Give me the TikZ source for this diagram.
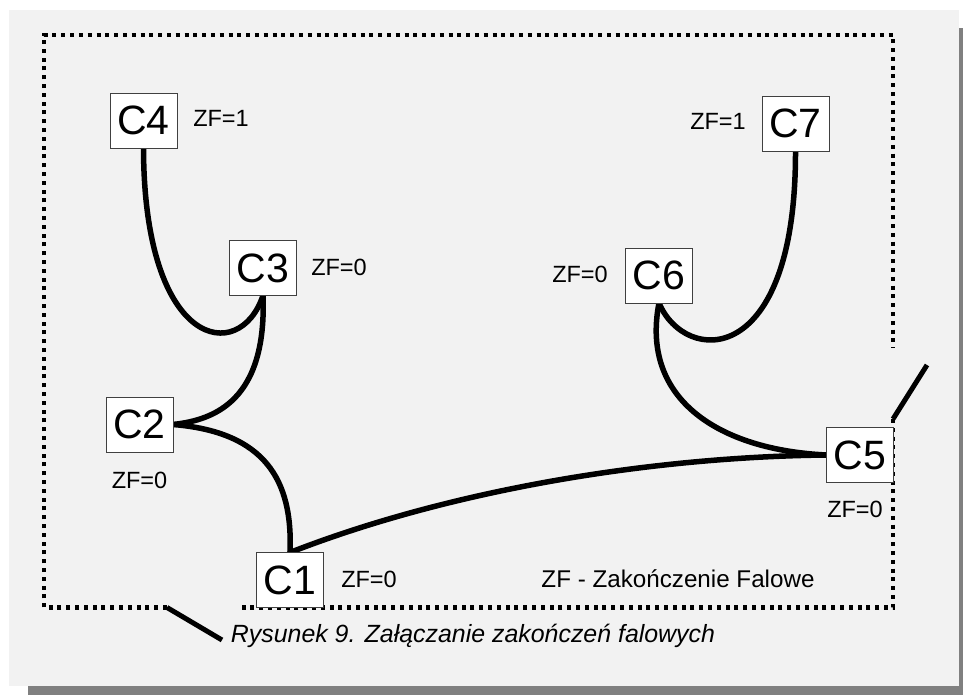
\documentclass[tikz,border=0pt]{standalone}
\usepackage{fontspec}
\setmainfont{Liberation Sans}
\begin{document}
\begin{tikzpicture}[x=1pt,y=1pt,
  cbox/.style={draw=boxColor,line width=0.9pt,fill=white,minimum width=67pt,minimum height=55pt,inner sep=0pt,outer sep=0pt,font=\fontsize{41}{41}\selectfont},
  zflabel/.style={text=drawColor,anchor=base,inner sep=0pt,outer sep=0pt,scale=2.35},
  wire/.style={draw=drawColor,line width=5.5pt,line cap=round,line join=round},
  frame/.style={draw=drawColor,line width=4.2pt,dash pattern=on 4pt off 4.8pt}]
\definecolor{fillColor}{RGB}{255,255,255}
\path[use as bounding box,fill=fillColor] (0,0) rectangle (963,695);
\definecolor{fillColor}{RGB}{128,128,128}

\path[fill=fillColor] ( 28.00,  0.00) rectangle (963.00,667.00);
\definecolor{fillColor}{RGB}{242,242,242}

\path[fill=fillColor] (  9.00,  9.00) rectangle (959.00,685.00);
\definecolor{drawColor}{RGB}{0,0,0}
\definecolor{boxColor}{gray}{0.25}

\path[frame] (167.00, 87.50) --
	( 44.00, 87.50) --
	( 44.00,660.00) --
	(893.00,660.00) --
	(893.00,347.00);

\path[frame] (893.00,276.00) --
	(893.00, 87.50) --
	(240.00, 87.50);

\path[draw=drawColor,line width= 5pt] (167.00, 87.50) -- (222.00, 55.00);

\path[draw=drawColor,line width= 5pt] (893.00,276.00) -- (927.00,330.00);

\node[cbox] (c4) at (143.50,574.50) {C4};
\node[cbox] (c3) at (263.00,427.00) {C3};
\node[cbox] (c2) at (139.50,270.50) {C2};
\node[cbox] (c1) at (290.00,115.00) {C1};
\node[cbox] (c5) at (860.00,240.00) {C5};
\node[cbox] (c6) at (659.00,419.50) {C6};
\node[cbox] (c7) at (795.50,571.50) {C7};

\path[wire] (c4.south) .. controls (144.00,345.00) and (240.00,330.00) .. (c3.south);

\path[wire] (c3.south) .. controls (267.00,295.00) and (215.00,275.00) .. (c2.east);

\path[wire] (c2.east) .. controls (265.00,263.00) and (293.00,215.00) .. (c1.north);

\path[wire] (c1.north) .. controls (450.00,205.00) and (650.00,238.00) .. (c5.west);

\path[wire] (c6.south) .. controls (640.00,295.00) and (720.00,245.00) .. (c5.west);

\path[wire] (c7.south) .. controls (796.00,325.00) and (685.00,330.00) .. (c6.south);

\node[cbox] at (c4) {C4};
\node[cbox] at (c3) {C3};
\node[cbox] at (c2) {C2};
\node[cbox] at (c1) {C1};
\node[cbox] at (c5) {C5};
\node[cbox] at (c6) {C6};
\node[cbox] at (c7) {C7};

\node[zflabel] (zf4) at (221.00,568.00) {ZF=1};
\node[zflabel] (zf3) at (339.00,419.00) {ZF=0};
\node[zflabel] (zf2) at (139.50,206.00) {ZF=0};
\node[zflabel] (zf1) at (369.00,107.00) {ZF=0};
\node[zflabel] (zf5) at (855.00,177.00) {ZF=0};
\node[zflabel] (zf6) at (580.00,412.00) {ZF=0};
\node[zflabel] (zf7) at (718.00,565.00) {ZF=1};

\node[zflabel,scale=1.03] (legend) at (678.00,107.00) {ZF - Zakończenie Falowe};

\node[zflabel,scale=1.06] (caption) at (473.00, 52.00) {\itshape Rysunek 9. Załączanie zakończeń falowych};
\end{tikzpicture}
\end{document}
